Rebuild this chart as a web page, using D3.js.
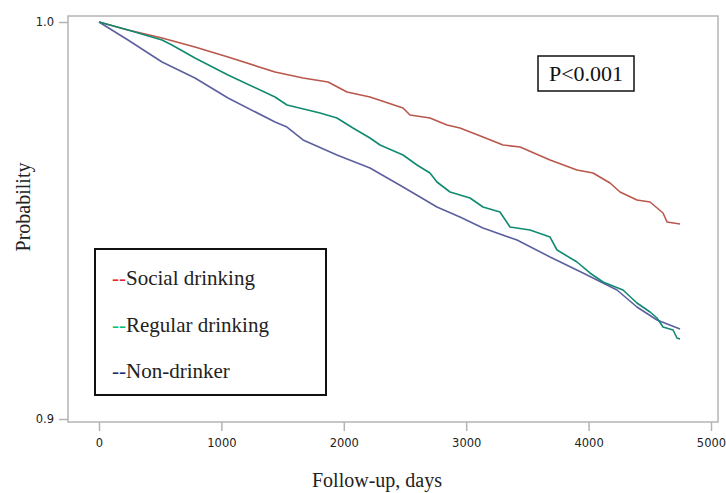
<!DOCTYPE html>
<html>
<head>
<meta charset="utf-8">
<script src="https://cdn.jsdelivr.net/npm/d3@7"></script>
<style>
  body { margin: 0; background: #fff; }
  svg { display: block; }
</style>
</head>
<body>
<svg id="chart" width="726" height="493"></svg>
<script>
// ---- Data (days, survival probability) ----
const seriesNames = ["Social drinking", "Regular drinking", "Non-drinker"];
const socialDays = [0, 237, 515, 784, 1054, 1438, 1667, 1871, 2026, 2214, 2484, 2541, 2704, 2843, 2949, 3137, 3301, 3440, 3685, 3905, 4036, 4175, 4257, 4395, 4502, 4608, 4641, 4747];
const socialProb = [1.0, 0.99798, 0.99597, 0.99370, 0.99118, 0.98741, 0.98589, 0.98489, 0.98237, 0.98111, 0.97834, 0.97657, 0.97582, 0.97406, 0.97330, 0.97103, 0.96902, 0.96851, 0.96524, 0.96272, 0.96196, 0.95945, 0.95718, 0.95516, 0.95466, 0.95189, 0.94962, 0.94912];
const regularDays = [0, 237, 515, 596, 784, 1054, 1438, 1536, 1806, 1944, 2075, 2214, 2296, 2484, 2598, 2704, 2761, 2868, 3031, 3137, 3276, 3358, 3521, 3685, 3742, 3905, 4011, 4118, 4281, 4395, 4502, 4559, 4608, 4690, 4722, 4747];
const regularProb = [1.0, 0.99798, 0.99547, 0.99421, 0.99093, 0.98665, 0.98111, 0.97909, 0.97708, 0.97582, 0.97330, 0.97078, 0.96902, 0.96650, 0.96398, 0.96196, 0.95970, 0.95718, 0.95567, 0.95340, 0.95214, 0.94836, 0.94761, 0.94584, 0.94257, 0.93955, 0.93678, 0.93451, 0.93249, 0.92922, 0.92695, 0.92544, 0.92317, 0.92242, 0.92040, 0.92015];
const nonDays = [0, 237, 515, 784, 1054, 1438, 1536, 1667, 1944, 2214, 2484, 2623, 2761, 2949, 3137, 3415, 3685, 3954, 4232, 4395, 4559, 4747];
const nonProb = [1.0, 0.99547, 0.98992, 0.98589, 0.98086, 0.97481, 0.97355, 0.97028, 0.96650, 0.96322, 0.95844, 0.95592, 0.95340, 0.95088, 0.94811, 0.94509, 0.94081, 0.93678, 0.93249, 0.92821, 0.92494, 0.92267];
const xTicks = [0, 1000, 2000, 3000, 4000, 5000];
const yTicks = [0.9, 1.0];
const pText = "P<0.001";

// ---- Layout ----
const svg = d3.select("#chart");
const frame = {left: 68, right: 718, top: 16, bottom: 422};
const x = d3.scaleLinear().domain([0, 5000]).range([99, 711]);
const y = d3.scaleLinear().domain([0.9, 1.0]).range([419, 22]);

const lineColors = ["#b9574c", "#108a70", "#5d5f9f"];
const legendColors = ["#e8262a", "#00c277", "#1b2a6b"];

// frame
svg.append("rect")
  .attr("x", frame.left).attr("y", frame.top)
  .attr("width", frame.right - frame.left).attr("height", frame.bottom - frame.top)
  .attr("fill", "none").attr("stroke", "#b4b4b4").attr("stroke-width", 1.5);

// x axis
const xAxis = svg.append("g")
  .attr("transform", `translate(0,${frame.bottom})`)
  .call(d3.axisBottom(x).tickValues(xTicks).tickFormat(d3.format("d")).tickSize(9).tickPadding(8));
xAxis.select(".domain").remove();
xAxis.selectAll("line").attr("stroke", "#b4b4b4").attr("stroke-width", 1.5);
xAxis.selectAll("text").attr("font-family", "DejaVu Sans").attr("font-size", 11.5).attr("fill", "#222");

// y axis
const yAxis = svg.append("g")
  .attr("transform", `translate(${frame.left},0)`)
  .call(d3.axisLeft(y).tickValues(yTicks).tickFormat(d3.format(".1f")).tickSize(9).tickPadding(5));
yAxis.select(".domain").remove();
yAxis.selectAll("line").attr("stroke", "#b4b4b4").attr("stroke-width", 1.5);
yAxis.selectAll("text").attr("font-family", "DejaVu Sans").attr("font-size", 11.5).attr("fill", "#222");

// lines
const seriesData = [
  d3.zip(socialDays, socialProb),
  d3.zip(regularDays, regularProb),
  d3.zip(nonDays, nonProb)
];
const line = d3.line().x(d => x(d[0])).y(d => y(d[1])).curve(d3.curveLinear);
const drawOrder = [0, 2, 1];
drawOrder.forEach(i => {
  svg.append("path")
    .datum(seriesData[i])
    .attr("d", line)
    .attr("fill", "none")
    .attr("stroke", lineColors[i])
    .attr("stroke-width", 1.6)
    .attr("stroke-linejoin", "round");
});

// axis titles
svg.append("text")
  .attr("x", 377).attr("y", 487)
  .attr("text-anchor", "middle")
  .attr("font-family", "Liberation Serif").attr("font-size", 20).attr("fill", "#222")
  .text("Follow-up, days");
svg.append("text")
  .attr("transform", "translate(30,207) rotate(-90)")
  .attr("text-anchor", "middle")
  .attr("font-family", "Liberation Serif").attr("font-size", 20).attr("fill", "#222")
  .text("Probability");

// P-value box
svg.append("rect")
  .attr("x", 538).attr("y", 56).attr("width", 96).attr("height", 35)
  .attr("fill", "#fff").attr("stroke", "#111").attr("stroke-width", 1.5);
svg.append("text")
  .attr("x", 586).attr("y", 81)
  .attr("text-anchor", "middle")
  .attr("font-family", "Liberation Serif").attr("font-size", 22).attr("fill", "#111")
  .text(pText);

// legend
svg.append("rect")
  .attr("x", 95).attr("y", 249).attr("width", 231).attr("height", 146)
  .attr("fill", "#fff").attr("stroke", "#111").attr("stroke-width", 2);
const legendY = [285, 332, 378];
seriesNames.forEach((name, i) => {
  const t = svg.append("text")
    .attr("x", 112).attr("y", legendY[i])
    .attr("font-family", "Liberation Serif").attr("font-size", 21).attr("fill", "#222");
  t.append("tspan").attr("fill", legendColors[i]).text("--");
  t.append("tspan").text(name);
});
</script>
</body>
</html>
